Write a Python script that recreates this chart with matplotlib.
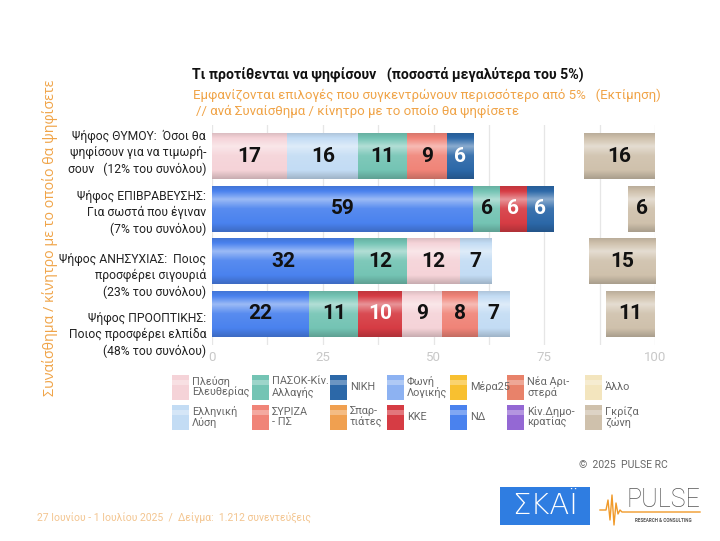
import matplotlib
matplotlib.use("Agg")
import matplotlib.pyplot as plt
import numpy as np
from matplotlib.colors import to_rgb, LinearSegmentedColormap
from matplotlib.patches import Rectangle
from matplotlib.transforms import blended_transform_factory

# ---------------- data ----------------
row_labels = [
    "Ψήφος ΘΥΜΟΥ:  Όσοι θα\nψηφίσουν για να τιμωρή-\nσουν   (12% του συνόλου)",
    "Ψήφος ΕΠΙΒΡΑΒΕΥΣΗΣ:\nΓια σωστά που έγιναν\n(7% του συνόλου)",
    "Ψήφος ΑΝΗΣΥΧΙΑΣ:  Ποιος\nπροσφέρει σιγουριά\n(23% του συνόλου)",
    "Ψήφος ΠΡΟΟΠΤΙΚΗΣ:\nΠοιος προσφέρει ελπίδα\n(48% του συνόλου)",
]
row_parties = [
    ["Πλεύση Ελευθερίας", "Ελληνική Λύση", "ΠΑΣΟΚ", "ΣΥΡΙΖΑ", "ΝΙΚΗ"],
    ["ΝΔ", "ΠΑΣΟΚ", "ΚΚΕ", "ΝΙΚΗ"],
    ["ΝΔ", "ΠΑΣΟΚ", "Πλεύση Ελευθερίας", "Ελληνική Λύση"],
    ["ΝΔ", "ΠΑΣΟΚ", "ΚΚΕ", "Πλεύση Ελευθερίας", "ΣΥΡΙΖΑ", "Ελληνική Λύση"],
]
row_values = [
    [17, 16, 11, 9, 6],
    [59, 6, 6, 6],
    [32, 12, 12, 7],
    [22, 11, 10, 9, 8, 7],
]
grey_zone = [16, 6, 15, 11]

legend_labels = [
    "Πλεύση\nΕλευθερίας", "ΠΑΣΟΚ-Κίν.\nΑλλαγής", "ΝΙΚΗ", "Φωνή\nΛογικής", "Μέρα25", "Νέα Αρι-\nστερά", "Άλλο",
    "Ελληνική\nΛύση", "ΣΥΡΙΖΑ\n- ΠΣ", "Σπαρ-\nτιάτες", "ΚΚΕ", "ΝΔ", "Κίν.Δημο-\nκρατίας", "Γκρίζα\nζώνη",
]
legend_keys = [
    "Πλεύση Ελευθερίας", "ΠΑΣΟΚ", "ΝΙΚΗ", "Φωνή Λογικής", "Μέρα25", "Νέα Αριστερά", "Άλλο",
    "Ελληνική Λύση", "ΣΥΡΙΖΑ", "Σπαρτιάτες", "ΚΚΕ", "ΝΔ", "Κίν.Δημοκρατίας", "Γκρίζα ζώνη",
]
xticks = [0, 25, 50, 75, 100]

colors = {
    "Πλεύση Ελευθερίας": "#F5D3D8",
    "Ελληνική Λύση": "#C3DCF4",
    "ΠΑΣΟΚ": "#74C4B4",
    "ΣΥΡΙΖΑ": "#F08478",
    "ΝΙΚΗ": "#2C68A8",
    "Φωνή Λογικής": "#8DB2F2",
    "Σπαρτιάτες": "#F0A050",
    "ΚΚΕ": "#D63C44",
    "Μέρα25": "#F8C030",
    "ΝΔ": "#4A82EE",
    "Νέα Αριστερά": "#E8826A",
    "Κίν.Δημοκρατίας": "#9468D4",
    "Άλλο": "#F3E5BE",
    "Γκρίζα ζώνη": "#CFC1AC",
}
white_text = {"ΝΙΚΗ", "ΚΚΕ"}

ORANGE = "#F0A448"

# ---------------- figure ----------------
fig = plt.figure(figsize=(7.2, 5.41), dpi=100)
fig.patch.set_facecolor("white")
ax = fig.add_axes([212 / 720, 1 - 345 / 541, 443 / 720, 220 / 541])


def gradient_cmap(base):
    r, g, b = to_rgb(base)
    c = np.array([r, g, b])
    white = np.ones(3)
    stops = [
        (0.00, c * 0.88),
        (0.12, c),
        (0.30, c + (white - c) * 0.45),
        (0.50, c + (white - c) * 0.08),
        (0.82, c),
        (1.00, c * 0.82),
    ]
    return LinearSegmentedColormap.from_list("g", [(p, tuple(np.clip(col, 0, 1))) for p, col in stops])


grad = np.linspace(0, 1, 64).reshape(-1, 1)
bar_h = 0.88


def glossy_bar(y, left, width, color):
    bars = ax.barh(y, width, left=left, height=bar_h, color=color, edgecolor="none", zorder=2)
    p = bars.patches[0]
    im = ax.imshow(grad, cmap=gradient_cmap(color), aspect="auto",
                   extent=[left, left + width, y + bar_h / 2, y - bar_h / 2],
                   origin="upper", zorder=3, interpolation="bilinear")
    im.set_clip_path(p)
    return p


for i, (parties, vals) in enumerate(zip(row_parties, row_values)):
    left = 0
    for party, v in zip(parties, vals):
        glossy_bar(i, left, v, colors[party])
        ax.text(left + v / 2, i, str(v), ha="center", va="center",
                fontsize=15, fontweight="bold", family="Roboto",
                color="white" if party in white_text else "#111111", zorder=5)
        left += v
    g = grey_zone[i]
    glossy_bar(i, 100 - g, g, colors["Γκρίζα ζώνη"])
    ax.text(100 - g / 2, i, str(g), ha="center", va="center",
            fontsize=15, fontweight="bold", family="Roboto", color="#111111", zorder=5)

ax.set_xlim(0, 100)
ax.set_ylim(3.59, -0.59)
ax.set_xticks(xticks)
ax.set_xticks(np.arange(0, 101, 12.5), minor=True)
ax.set_xticklabels([str(t) for t in xticks], fontsize=9.5, color="#C8C8C8", family="Roboto")
ax.tick_params(axis="x", which="both", length=0, pad=4)
ax.grid(axis="x", which="both", color="#E6E6E6", linewidth=0.9, zorder=0)
ax.set_axisbelow(True)
ax.set_yticks([])
for s in ax.spines.values():
    s.set_visible(False)

# category labels (slightly wider spacing than bars, as in the original)
label_shift = [-0.06, 0.08, 0.28, 0.40]
tr = blended_transform_factory(ax.transAxes, ax.transData)
for i, lab in enumerate(row_labels):
    ax.text(-0.0135, i + label_shift[i], lab, transform=tr, ha="right", va="center",
            fontsize=8.7, color="#222222", family="Roboto", linespacing=1.28, clip_on=False)

# ---------------- titles ----------------
fig.text(192 / 720, 1 - 74 / 541, "Τι προτίθενται να ψηφίσουν   (ποσοστά μεγαλύτερα του 5%)",
         fontsize=10.2, fontweight="bold", family="Roboto", color="#111111", va="center")
fig.text(193 / 720, 1 - 95 / 541,
         "Εμφανίζονται επιλογές που συγκεντρώνουν περισσότερο από 5%   (Εκτίμηση)",
         fontsize=9.5, family="Roboto", color=ORANGE, va="center")
fig.text(196 / 720, 1 - 111 / 541, "// ανά Συναίσθημα / κίνητρο με το οποίο θα ψηφίσετε",
         fontsize=9.5, family="Roboto", color=ORANGE, va="center")

fig.text(50 / 720, 1 - 238 / 541, "Συναίσθημα / κίνητρο με το οποίο θα ψηφίσετε",
         rotation=90, fontsize=10.3, family="Open Sans", color=ORANGE, ha="center", va="center")

# ---------------- legend ----------------
patch_x = [172, 252, 330, 387, 450, 507, 585]
row_y = [387, 417]
for k, (lab, key) in enumerate(zip(legend_labels, legend_keys)):
    r, c = divmod(k, 7)
    px = patch_x[c]
    py = row_y[r]
    w, h = 17, 25
    fig.add_artist(Rectangle((px / 720, 1 - (py + h / 2) / 541), w / 720, h / 541,
                             transform=fig.transFigure, facecolor=colors[key], edgecolor="none"))
    fig.add_artist(Rectangle((px / 720, 1 - (py - 2) / 541), w / 720, 5 / 541,
                             transform=fig.transFigure, facecolor="white", alpha=0.3, edgecolor="none"))
    fig.text((px + 20) / 720, 1 - py / 541, lab, fontsize=7.8, family="Roboto",
             color="#666666", va="center", ha="left", linespacing=1.05)

# ---------------- footer ----------------
fig.text(623 / 720, 1 - 465 / 541, "©  2025  PULSE RC", fontsize=7.5, family="Roboto",
         color="#666666", ha="center", va="center")
fig.text(37 / 720, 1 - 518 / 541, "27 Ιουνίου - 1 Ιουλίου 2025  /  Δείγμα:  1.212 συνεντεύξεις",
         fontsize=7.5, family="Roboto", color="#F3C590", va="center")

fig.add_artist(Rectangle((500 / 720, 1 - 525 / 541), 90 / 720, 38 / 541,
                         transform=fig.transFigure, facecolor="#2F7DE1", edgecolor="none"))
fig.text(545 / 720, 1 - 506 / 541, "ΣΚΑΪ", fontsize=21, family="DejaVu Sans",
         fontweight="light", color="white", ha="center", va="center")
fig.text(663 / 720, 1 - 500 / 541, "PULSE", fontsize=18, family="Roboto",
         fontweight="light", color="#555555", ha="center", va="center")
fig.text(663 / 720, 1 - 521 / 541, "RESEARCH & CONSULTING", fontsize=3.3, family="Roboto",
         fontweight="bold", color="#555555", ha="center", va="center")
hx = np.array([600, 606, 608, 610, 612, 614, 616, 618, 620, 622, 700])
hy = np.array([510, 510, 500, 520, 495, 525, 503, 514, 510, 512, 512])
fig.add_artist(plt.Line2D(hx / 720, 1 - hy / 541, transform=fig.transFigure,
                          color="#F09A2A", linewidth=1.0))

fig.savefig("out.png", dpi=100, facecolor="white")
